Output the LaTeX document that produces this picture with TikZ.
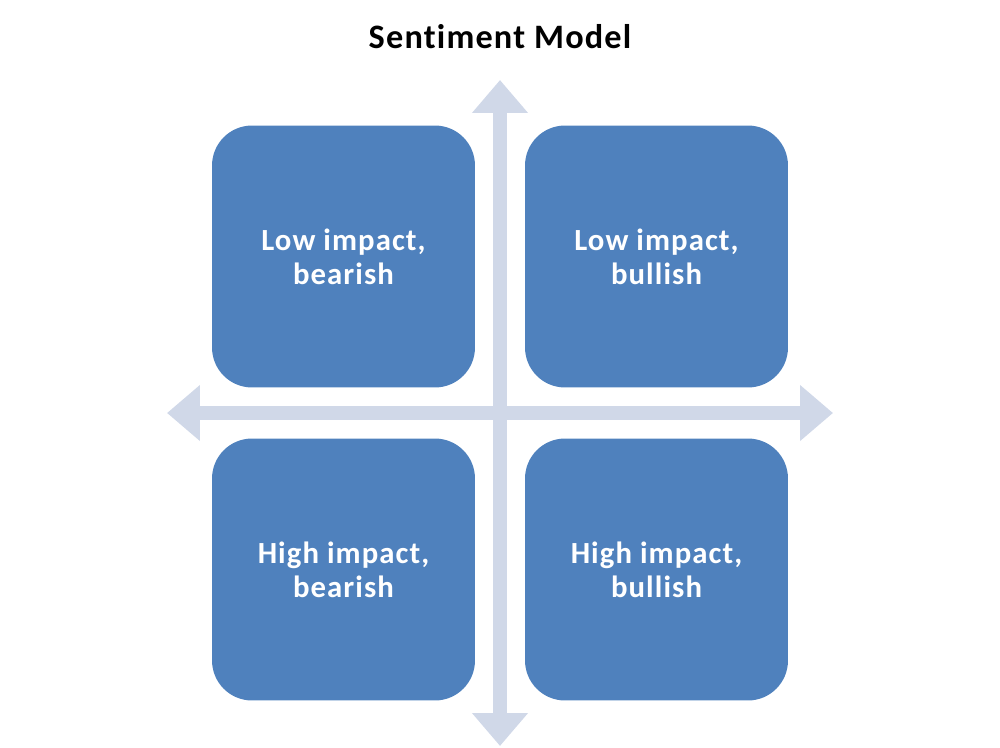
\documentclass[tikz,border=0pt]{standalone}
\usepackage{fontspec}
\setmainfont{Carlito}[LetterSpace=3.5, Ligatures=NoCommon]
\usepackage{xcolor}
\usetikzlibrary{arrows.meta,positioning}
\definecolor{quadblue}{HTML}{4F81BD}
\definecolor{axisgray}{HTML}{D0D8E8}
\begin{document}
\begin{tikzpicture}[
    x=0.02cm, y=-0.02cm,
    quadrant/.style={rectangle, rounded corners=0.8cm, fill=quadblue, draw=none,
        minimum width=5.26cm, minimum height=5.24cm, inner sep=0pt,
        text=white, align=center, font=\fontsize{17.5}{19.4}\selectfont\bfseries},
    axis/.style={axisgray, line width=0.28cm, line cap=butt,
        {Triangle[length=0.66cm, width=1.08cm]}-{Triangle[length=0.66cm, width=1.08cm]}}
]
\useasboundingbox (0,0) rectangle (1000,747);
% Title
\node[font=\fontsize{19.5}{22}\selectfont\bfseries] (title) at (500,37) {Sentiment Model};
% Axes
\coordinate (vtop) at (500,80);
\coordinate (vbot) at (500,746);
\coordinate (hleft) at (167,413);
\coordinate (hright) at (833,413);
\draw[axis] (vbot) -- (vtop);
\draw[axis] (hleft) -- (hright);
% Quadrants
\node[quadrant] (lowbear) at (343.5,256.5) {Low impact,\\bearish};
\node[quadrant] (lowbull) at (656.5,256.5) {Low impact,\\bullish};
\node[quadrant] (highbear) at (343.5,569.5) {High impact,\\bearish};
\node[quadrant] (highbull) at (656.5,569.5) {High impact,\\bullish};
\end{tikzpicture}
\end{document}
